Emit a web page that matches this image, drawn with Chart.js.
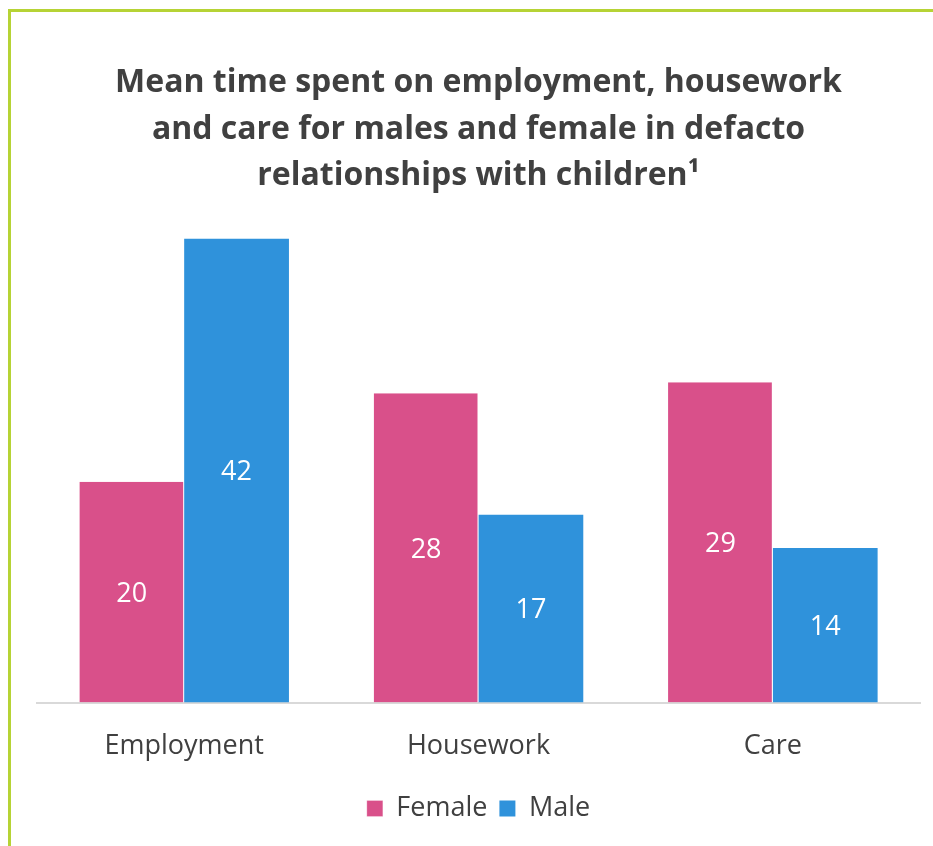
<!DOCTYPE html>
<html>
<head>
<meta charset="utf-8">
<script src="https://cdn.jsdelivr.net/npm/chart.js@4"></script>
<style>
  html, body { margin: 0; padding: 0; background: #fff; }
  #wrap { position: relative; width: 933px; height: 846px; overflow: hidden; }
  #frame { position: absolute; left: 8px; top: 9px; width: 940px; height: 850px;
           border-left: 3px solid #b6d335; border-top: 3px solid #b6d335; }
</style>
</head>
<body>
<div id="wrap">
  <div id="frame"></div>
  <canvas id="chart"></canvas>
</div>
<script>
  const categories = ["Employment", "Housework", "Care"];
  const femaleHours = [20, 28, 29];
  const maleHours = [42, 17, 14];
  const titleLines = [
    "Mean time spent on employment, housework",
    "and care for males and female in defacto",
    "relationships with children\u00B9"
  ];

  const textColor = "#404040";
  const fontFamily = "'Open Sans', sans-serif";

  // draws the value in the middle of each bar
  const barValues = {
    id: "barValues",
    afterDatasetsDraw(chart) {
      const ctx = chart.ctx;
      ctx.save();
      ctx.fillStyle = "#fff";
      ctx.font = "27px " + fontFamily;
      ctx.textAlign = "center";
      ctx.textBaseline = "middle";
      chart.data.datasets.forEach((ds, i) => {
        chart.getDatasetMeta(i).data.forEach((bar, j) => {
          ctx.fillText(ds.data[j], bar.x, (bar.y + bar.base) / 2 + 2);
        });
      });
      ctx.restore();
    }
  };

  new Chart(document.getElementById("chart"), {
    type: "bar",
    data: {
      labels: categories,
      datasets: [
        { label: "Female", data: femaleHours, backgroundColor: "#d9508a",
          borderColor: "#fff", borderWidth: { right: 1 }, borderSkipped: false },
        { label: "Male", data: maleHours, backgroundColor: "#2f92db", borderWidth: 0 }
      ]
    },
    options: {
      responsive: true,
      maintainAspectRatio: false,
      animation: false,
      layout: { padding: { left: 37, right: 13, top: 0, bottom: 14 } },
      datasets: { bar: { barPercentage: 1, categoryPercentage: 0.712 } },
      scales: {
        x: {
          grid: { display: false },
          border: { display: true, color: "#d9d9d9", width: 2 },
          ticks: { color: textColor, font: { family: fontFamily, size: 27 }, padding: 20 }
        },
        y: { display: false, min: 0, max: 45 }
      },
      plugins: {
        title: {
          display: true,
          text: titleLines,
          color: textColor,
          font: { family: fontFamily, size: 32, weight: "bold", lineHeight: 1.453 },
          padding: { top: 60, bottom: 6 }
        },
        legend: {
          position: "bottom",
          labels: {
            color: textColor,
            font: { family: fontFamily, size: 27 },
            boxWidth: 16, boxHeight: 16, padding: 12
          }
        },
        tooltip: { enabled: false }
      }
    },
    plugins: [barValues]
  });
</script>
</body>
</html>
